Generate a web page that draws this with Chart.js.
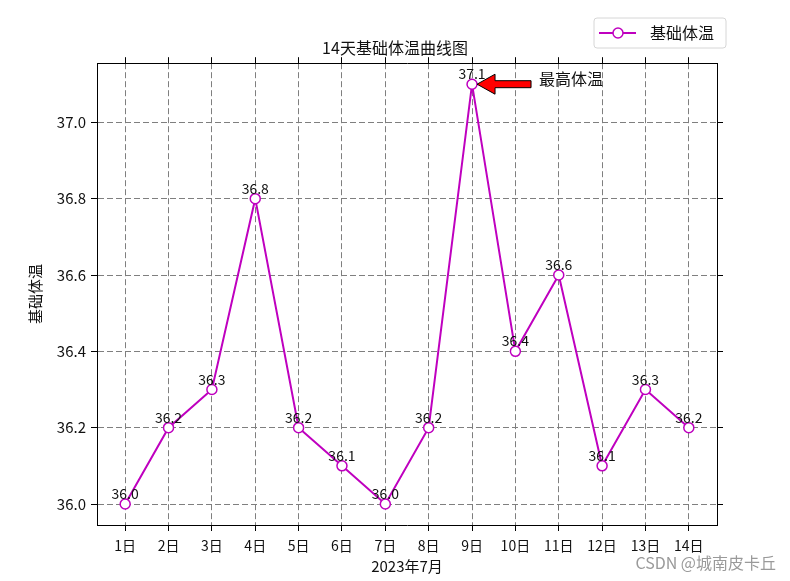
<!DOCTYPE html>
<html>
<head>
<meta charset="utf-8">
<script src="https://cdn.jsdelivr.net/npm/chart.js@4.4.0/dist/chart.umd.min.js"></script>
<style>
    html, body { margin: 0; padding: 0; background: #fff; }
    #wrap { width: 790px; height: 581px; }
</style>
</head>
<body>
<div id="wrap"><canvas id="tempChart" width="790" height="581"></canvas></div>
<script>
// ===== DATA =====
const days = ['1日', '2日', '3日', '4日', '5日', '6日', '7日', '8日', '9日', '10日', '11日', '12日', '13日', '14日'];
const temps = [36.0, 36.2, 36.3, 36.8, 36.2, 36.1, 36.0, 36.2, 37.1, 36.4, 36.6, 36.1, 36.3, 36.2];
const yTicks = [36.0, 36.2, 36.4, 36.6, 36.8, 37.0];

const FONT = "'Noto Sans CJK SC', 'Noto Sans', sans-serif";
const LINE_COLOR = '#bf00bf';
const GRID_COLOR = '#7f7f7f';

// ===== PLUGINS =====
// value label above every point
const pointLabels = {
    id: 'pointLabels',
    afterDatasetsDraw(chart) {
        const ctx = chart.ctx;
        const meta = chart.getDatasetMeta(0);
        ctx.save();
        ctx.font = `14px ${FONT}`;
        ctx.fillStyle = '#111';
        ctx.textAlign = 'center';
        ctx.textBaseline = 'alphabetic';
        meta.data.forEach((pt, i) => {
            ctx.fillText(temps[i].toFixed(1), pt.x, pt.y - 5);
        });
        ctx.restore();
    }
};

// arrow + text at the highest value
const maxNote = {
    id: 'maxNote',
    afterDatasetsDraw(chart) {
        const ctx = chart.ctx;
        const idx = temps.indexOf(Math.max(...temps));
        const pt = chart.getDatasetMeta(0).data[idx];
        const x = pt.x, y = pt.y;
        ctx.save();
        ctx.beginPath();
        ctx.moveTo(x + 5, y);
        ctx.lineTo(x + 23, y - 10);
        ctx.lineTo(x + 23, y - 3.5);
        ctx.lineTo(x + 59, y - 3.5);
        ctx.lineTo(x + 59, y + 3.5);
        ctx.lineTo(x + 23, y + 3.5);
        ctx.lineTo(x + 23, y + 10);
        ctx.closePath();
        ctx.fillStyle = '#ff0000';
        ctx.fill();
        ctx.lineWidth = 1;
        ctx.strokeStyle = '#000';
        ctx.stroke();

        ctx.font = `16px ${FONT}`;
        ctx.fillStyle = '#111';
        ctx.textAlign = 'left';
        ctx.textBaseline = 'middle';
        ctx.fillText('最高体温', x + 67, y - 5);
        ctx.restore();
    }
};

// legend box in the upper right, plus the watermark
const extras = {
    id: 'extras',
    afterDraw(chart) {
        const ctx = chart.ctx;
        ctx.save();
        // legend frame
        const bx = 594, by = 18, bw = 132, bh = 30, r = 3;
        ctx.beginPath();
        ctx.moveTo(bx + r, by);
        ctx.arcTo(bx + bw, by, bx + bw, by + bh, r);
        ctx.arcTo(bx + bw, by + bh, bx, by + bh, r);
        ctx.arcTo(bx, by + bh, bx, by, r);
        ctx.arcTo(bx, by, bx + bw, by, r);
        ctx.closePath();
        ctx.fillStyle = 'rgba(255,255,255,0.8)';
        ctx.fill();
        ctx.strokeStyle = '#d6d6d6';
        ctx.lineWidth = 1;
        ctx.stroke();

        ctx.beginPath();
        ctx.moveTo(599, 33);
        ctx.lineTo(636, 33);
        ctx.strokeStyle = LINE_COLOR;
        ctx.lineWidth = 2;
        ctx.stroke();
        ctx.beginPath();
        ctx.arc(618, 33, 5, 0, Math.PI * 2);
        ctx.fillStyle = '#fff';
        ctx.fill();
        ctx.lineWidth = 1.5;
        ctx.stroke();

        ctx.font = `16px ${FONT}`;
        ctx.fillStyle = '#111';
        ctx.textAlign = 'left';
        ctx.textBaseline = 'middle';
        ctx.fillText('基础体温', 650, 33);

        // watermark
        ctx.font = `16px ${FONT}`;
        ctx.fillStyle = '#9a9a9a';
        ctx.textAlign = 'right';
        ctx.fillText('CSDN @城南皮卡丘', 776, 563);
        ctx.restore();
    }
};

// ===== CHART =====
const dayTicks = scale => { scale.ticks = days.map((d, i) => ({ value: i })); };
const tempTicks = scale => { scale.ticks = yTicks.map(v => ({ value: v })); };

const ctx = document.getElementById('tempChart');

new Chart(ctx, {
    type: 'line',
    data: {
        datasets: [{
            label: '基础体温',
            data: temps.map((t, i) => ({ x: i, y: t })),
            borderColor: LINE_COLOR,
            borderWidth: 2,
            pointRadius: 5,
            pointBorderWidth: 1.5,
            pointBackgroundColor: '#fff',
            pointBorderColor: LINE_COLOR,
            tension: 0
        }]
    },
    options: {
        responsive: false,
        animation: false,
        layout: { padding: { left: 0, right: 0, top: 38, bottom: 0 } },
        plugins: {
            legend: { display: false },
            tooltip: { enabled: false },
            title: {
                display: true,
                text: '14天基础体温曲线图',
                color: '#111',
                font: { size: 16, family: FONT, weight: 'normal' },
                padding: { top: 0, bottom: 0 }
            }
        },
        scales: {
            x: {
                type: 'linear',
                position: 'bottom',
                min: -0.65,
                max: 13.65,
                afterBuildTicks: dayTicks,
                afterFit: s => { s.height = 56; },
                ticks: {
                    color: '#111',
                    font: { size: 14, family: FONT },
                    padding: 6,
                    maxRotation: 0,
                    autoSkip: false,
                    callback: v => days[v]
                },
                grid: { color: GRID_COLOR, lineWidth: 1, tickLength: 6, tickColor: '#000' },
                border: { display: true, color: '#000', width: 1, dash: [6, 3] },
                title: {
                    display: true,
                    text: '2023年7月',
                    color: '#111',
                    font: { size: 15, family: FONT },
                    padding: { top: 0, bottom: 6 }
                }
            },
            x2: {
                type: 'linear',
                position: 'top',
                min: -0.65,
                max: 13.65,
                afterBuildTicks: dayTicks,
                afterFit: s => { s.height = 6; },
                ticks: { display: false },
                grid: { drawOnChartArea: false, tickLength: 6, tickColor: '#000' },
                border: { display: true, color: '#000', width: 1 }
            },
            y: {
                type: 'linear',
                position: 'left',
                min: 35.945,
                max: 37.155,
                afterBuildTicks: tempTicks,
                afterFit: s => { s.width = 97; },
                ticks: {
                    color: '#111',
                    font: { size: 15, family: FONT },
                    padding: 5,
                    callback: v => v.toFixed(1)
                },
                grid: { color: GRID_COLOR, lineWidth: 1, tickLength: 6, tickColor: '#000' },
                border: { display: true, color: '#000', width: 1, dash: [6, 3] },
                title: {
                    display: true,
                    text: '基础体温',
                    color: '#111',
                    font: { size: 15, family: FONT },
                    padding: { top: 26, bottom: 0 }
                }
            },
            y2: {
                type: 'linear',
                position: 'right',
                min: 35.945,
                max: 37.155,
                afterBuildTicks: tempTicks,
                afterFit: s => { s.width = 73; },
                ticks: { display: false },
                grid: { drawOnChartArea: false, tickLength: 6, tickColor: '#000' },
                border: { display: true, color: '#000', width: 1 }
            }
        }
    },
    plugins: [pointLabels, maxNote, extras]
});
</script>
</body>
</html>
